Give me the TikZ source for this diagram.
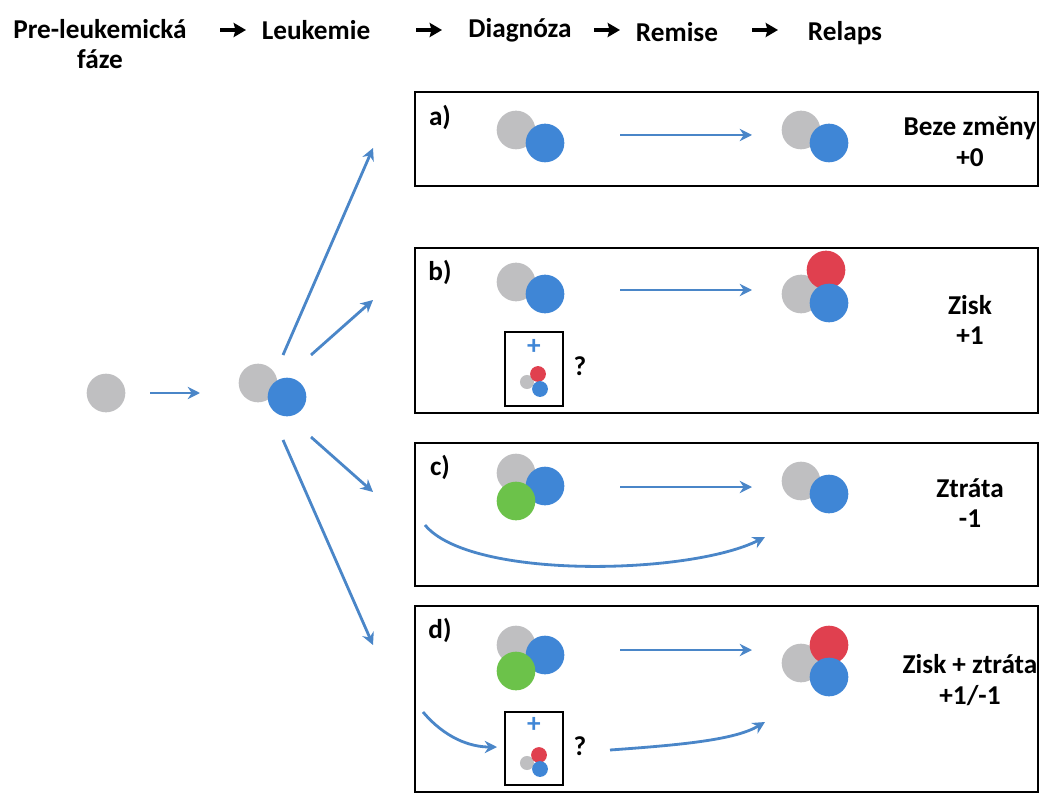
\documentclass[tikz,border=0pt]{standalone}
\usepackage{fontspec}
\setmainfont{Carlito}
\usetikzlibrary{arrows.meta}
\definecolor{cg}{HTML}{BFBFC1}
\definecolor{cb}{HTML}{3F86D6}
\definecolor{cr}{HTML}{E0404F}
\definecolor{cgr}{HTML}{6CC24A}
\definecolor{ca}{HTML}{4A86C8}
\begin{document}
\begin{tikzpicture}[x=0.02cm,y=-0.02cm,
 t/.style={font=\fontsize{15.5}{17.5}\selectfont\bfseries,align=center},
 hd/.style={-{Stealth[length=7pt,width=8pt,inset=1pt]},line width=2pt,black},
 ar/.style={-{Stealth[length=7pt,width=7pt]},line width=1.6pt,ca},
 box/.style={draw,line width=0.8pt},
 cir/.style={circle,inner sep=0,minimum size=#1},
 g/.style={cir=22pt,fill=cg},b/.style={cir=22pt,fill=cb},r/.style={cir=22pt,fill=cr},gr/.style={cir=22pt,fill=cgr},
 sg/.style={cir=8pt,fill=cg},sb/.style={cir=9pt,fill=cb},sr/.style={cir=9pt,fill=cr}]
\useasboundingbox (0,0) rectangle (1057,800);
% header
\node[t] (h1) at (100,44) {Pre-leukemická\\fáze};
\node[t] (h2) at (316,30) {Leukemie};
\node[t] (h3) at (520,30) {Diagnóza};
\node[t] (h4) at (677,32) {Remise};
\node[t] (h5) at (845,33) {Relaps};
\coordinate (p1) at (220,30); \coordinate (q1) at (246,30);
\coordinate (p2) at (416,30); \coordinate (q2) at (442,30);
\coordinate (p3) at (594,30); \coordinate (q3) at (620,30);
\coordinate (p4) at (752,30); \coordinate (q4) at (778,30);
\draw[hd] (p1)--(q1); \draw[hd] (p2)--(q2); \draw[hd] (p3)--(q3); \draw[hd] (p4)--(q4);
% boxes
\node[box,minimum width=623*0.02cm,minimum height=94*0.02cm] (ba) at (726.5,139) {};
\node[box,minimum width=623*0.02cm,minimum height=165*0.02cm] (bb) at (726.5,330.5) {};
\node[box,minimum width=623*0.02cm,minimum height=143*0.02cm] (bc) at (726.5,514.5) {};
\node[box,minimum width=623*0.02cm,minimum height=186*0.02cm] (bd) at (726.5,699) {};
% left
\node[g] (c0) at (106,393) {};
\node[g] (l1) at (258,383) {}; \node[b] (l2) at (287,397) {};
\coordinate (s0) at (150,393); \coordinate (e0) at (200,393);
\draw[ar] (s0)--(e0);
\coordinate (f1) at (283,355); \coordinate (f2) at (311,355); \coordinate (f3) at (311,437); \coordinate (f4) at (283,440);
\coordinate (ta) at (373,148); \coordinate (tb) at (373,300); \coordinate (tc) at (373,492); \coordinate (td) at (373,645);
\draw[ar] (f1)--(ta); \draw[ar] (f2)--(tb); \draw[ar] (f3)--(tc); \draw[ar] (f4)--(td);
% a
\node[t] (la) at (440,117) {a)};
\node[g] (a1) at (516,130) {}; \node[b] (a2) at (545,143) {};
\node[g] (a3) at (801,130) {}; \node[b] (a4) at (829,143) {};
\coordinate (as) at (620,135); \coordinate (ae) at (752,135); \draw[ar] (as)--(ae);
\node[t] (ra) at (970,142) {Beze změny\\+0};
% b
\node[t] (lb) at (440,272) {b)};
\node[g] (b1) at (516,282) {}; \node[b] (b2) at (545,294) {};
\node[g] (b3) at (801,294) {}; \node[r] (b4) at (826,270) {}; \node[b] (b5) at (829,303) {};
\coordinate (bs) at (620,290); \coordinate (be) at (752,290); \draw[ar] (bs)--(be);
\node[box,minimum width=58*0.02cm,minimum height=74*0.02cm] (ib) at (534,369) {};
\node[t,text=cb] (pb) at (534,347) {+};
\node[sg] (ib1) at (527,382) {}; \node[sr] (ib2) at (538,374) {}; \node[sb] (ib3) at (540,389) {};
\node[t] (qb) at (580,366) {?};
\node[t] (rb) at (970,320) {Zisk\\+1};
% c
\node[t] (lc) at (440,467) {c)};
\node[g] (c1) at (516,473) {}; \node[b] (c2) at (545,486) {}; \node[gr] (c3) at (516,501) {};
\node[g] (c4) at (801,481) {}; \node[b] (c5) at (829,494) {};
\coordinate (cs) at (620,487); \coordinate (ce) at (752,487); \draw[ar] (cs)--(ce);
\coordinate (cc1) at (425,525); \coordinate (cc2) at (765,537);
\draw[ar] (cc1) .. controls (470,580) and (690,575) .. (cc2);
\node[t] (rc) at (970,503) {Ztráta\\-1};
% d
\node[t] (ld) at (440,630) {d)};
\node[g] (d1) at (516,645) {}; \node[b] (d2) at (545,655) {}; \node[gr] (d3) at (516,671) {};
\node[g] (d4) at (801,663) {}; \node[r] (d5) at (829,645) {}; \node[b] (d6) at (829,677) {};
\coordinate (ds) at (620,650); \coordinate (de) at (752,650); \draw[ar] (ds)--(de);
\node[box,minimum width=58*0.02cm,minimum height=73*0.02cm] (id) at (534,748.5) {};
\node[t,text=cb] (pd) at (534,725) {+};
\node[sg] (id1) at (527,763) {}; \node[sr] (id2) at (539,755) {}; \node[sb] (id3) at (540,769) {};
\node[t] (qd) at (580,746) {?};
\coordinate (dd1) at (423,712); \coordinate (dd2) at (497,747);
\draw[ar] (dd1) .. controls (445,738) and (470,747) .. (dd2);
\coordinate (dd3) at (610,750); \coordinate (dd4) at (765,722);
\draw[ar] (dd3) .. controls (680,745) and (735,740) .. (dd4);
\node[t] (rd) at (970,680) {Zisk + ztráta\\+1/-1};
\end{tikzpicture}
\end{document}
